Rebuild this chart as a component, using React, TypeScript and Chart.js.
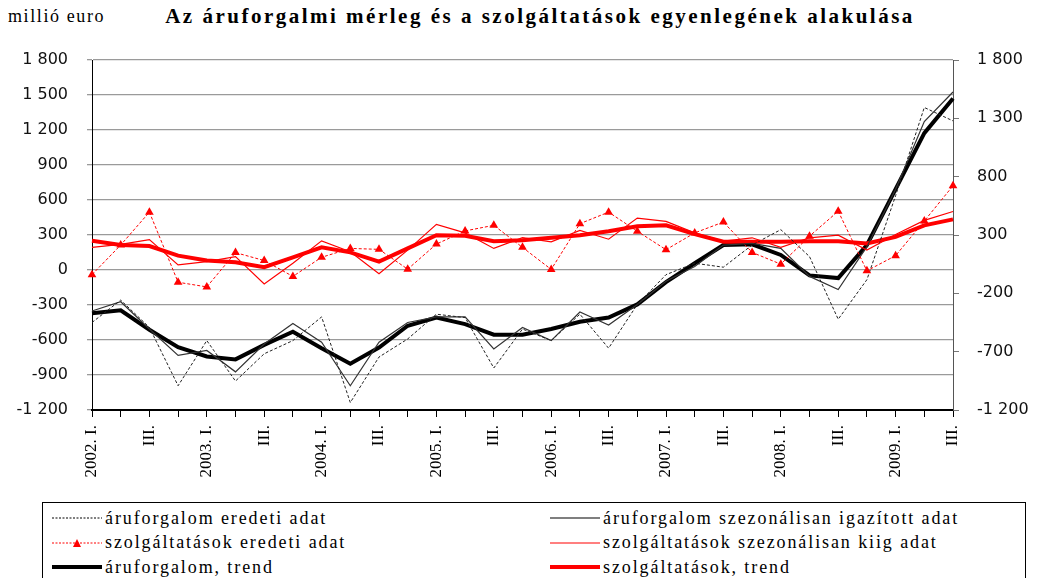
import React, { useEffect, useRef } from "react";
import { Chart, registerables } from "chart.js";

Chart.register(...registerables);

const quarters: string[] = [];
const years = [2002, 2003, 2004, 2005, 2006, 2007, 2008, 2009];
const qNames = ["I.", "II.", "III.", "IV."];
years.forEach((y) =>
  qNames.forEach((q, qi) => {
    if (y === 2009 && qi > 2) return;
    quarters.push(qi === 0 ? `${y}. ${q}` : q);
  })
);

const goodsOrig = [-450, -258, -492, -992, -605, -952, -718, -605, -402, -1136, -746, -591, -379, -408, -840, -506, -605, -379, -670, -295, -40, 58, 24, 214, 346, 115, -422, -83, 637, 1393, 1278];
const goodsSA = [-351, -272, -506, -732, -690, -873, -634, -458, -619, -992, -619, -450, -402, -402, -676, -492, -605, -360, -472, -295, -97, 30, 214, 228, 185, -55, -168, 200, 693, 1272, 1526];
const goodsTrend = [-371, -345, -512, -662, -741, -766, -642, -529, -670, -803, -665, -478, -408, -464, -555, -555, -506, -444, -408, -295, -104, 58, 214, 220, 129, -46, -69, 214, 693, 1173, 1470];
const servOrig = [-40, 214, 496, -105, -145, 149, 81, -55, 109, 185, 177, 7, 222, 335, 383, 194, 5, 397, 496, 332, 174, 318, 411, 151, 50, 290, 504, -7, 123, 420, 722];
const servSA = [194, 219, 261, 44, 72, 115, -120, 58, 250, 157, -32, 170, 391, 318, 185, 278, 242, 340, 264, 445, 417, 318, 247, 276, 194, 276, 298, 171, 304, 425, 501];
const servTrend = [250, 214, 205, 123, 81, 67, 24, 109, 194, 151, 72, 185, 298, 293, 247, 256, 276, 298, 332, 374, 383, 307, 242, 242, 242, 247, 247, 228, 284, 383, 434];

const rightTicks = [-1200, -700, -200, 300, 800, 1300, 1800];

const seriesNames = [
  "áruforgalom eredeti adat",
  "áruforgalom szezonálisan igazított adat",
  "szolgáltatások eredeti adat",
  "szolgáltatások szezonálisan kiig adat",
  "áruforgalom, trend",
  "szolgáltatások, trend",
];

const FONT = "'Liberation Serif', 'DejaVu Serif', serif";
const SANS = "'DejaVu Sans', 'Liberation Sans', sans-serif";

const fmt = (v: number) => {
  const s = Math.abs(v).toString();
  const withSp = s.length > 3 ? s.slice(0, s.length - 3) + " " + s.slice(-3) : s;
  return (v < 0 ? "-" : "") + withSp;
};

function LegendSample({ kind }: { kind: string }) {
  const w = 50;
  return (
    <svg width={w} height={12} style={{ display: "block" }}>
      {kind === "bdash" && <line x1={0} y1={6} x2={w} y2={6} stroke="#000" strokeWidth={1} strokeDasharray="2 1.5" />}
      {kind === "bthin" && <line x1={0} y1={6} x2={w} y2={6} stroke="#000" strokeWidth={1.2} />}
      {kind === "rdash" && (
        <>
          <line x1={0} y1={6} x2={w} y2={6} stroke="#ff0000" strokeWidth={1} strokeDasharray="2 1.5" />
          <polygon points={`${w / 2 - 4},10 ${w / 2 + 4},10 ${w / 2},2`} fill="#ff0000" />
        </>
      )}
      {kind === "rthin" && <line x1={0} y1={6} x2={w} y2={6} stroke="#ff0000" strokeWidth={1.2} />}
      {kind === "bthick" && <line x1={0} y1={6} x2={w} y2={6} stroke="#000" strokeWidth={4} />}
      {kind === "rthick" && <line x1={0} y1={6} x2={w} y2={6} stroke="#ff0000" strokeWidth={4} />}
    </svg>
  );
}

export default function App() {
  const ref = useRef<HTMLCanvasElement>(null);

  useEffect(() => {
    document.body.style.margin = "0";
    const ctx = ref.current!.getContext("2d")!;
    const chart = new Chart(ctx, {
      type: "line",
      data: {
        labels: quarters,
        datasets: [
          { label: seriesNames[2], data: servOrig, yAxisID: "y1", borderColor: "#ff0000", backgroundColor: "#ff0000", borderWidth: 1, borderDash: [3, 2], pointStyle: "triangle", pointRadius: 5, pointBorderWidth: 0, pointBackgroundColor: "#ff0000" },
          { label: seriesNames[3], data: servSA, yAxisID: "y1", borderColor: "#ff0000", borderWidth: 1.2, pointRadius: 0 },
          { label: seriesNames[0], data: goodsOrig, yAxisID: "y", borderColor: "#222", borderWidth: 1, borderDash: [3, 2], pointRadius: 0 },
          { label: seriesNames[1], data: goodsSA, yAxisID: "y", borderColor: "#333", borderWidth: 1.2, pointRadius: 0 },
          { label: seriesNames[5], data: servTrend, yAxisID: "y1", borderColor: "#ff0000", borderWidth: 4, pointRadius: 0 },
          { label: seriesNames[4], data: goodsTrend, yAxisID: "y", borderColor: "#000", borderWidth: 4, pointRadius: 0 },
        ],
      },
      options: {
        animation: false,
        responsive: false,
        maintainAspectRatio: false,
        layout: { padding: { top: 60, left: 0, right: 0, bottom: 0 } },
        plugins: { legend: { display: false }, title: { display: false }, tooltip: { enabled: false } },
        elements: { line: { tension: 0 } },
        scales: {
          x: {
            type: "category",
            offset: false,
            grid: { drawOnChartArea: false, drawTicks: true, tickLength: 7, color: "#000", lineWidth: 1 },
            border: { display: true, color: "#000", width: 2 },
            ticks: {
              autoSkip: false,
              maxRotation: 90,
              minRotation: 90,
              padding: 8,
              color: "#000",
              font: { family: FONT, size: 17 },
              callback: (_v: any, i: number) => (i % 2 === 0 ? quarters[i] : ""),
            },
            afterFit: (s: any) => {
              s.height = 90;
            },
          },
          y: {
            position: "left",
            min: -1200,
            max: 1800,
            grid: { color: "#9a9a9a", lineWidth: 1.3, drawTicks: true, tickLength: 5 },
            border: { display: true, color: "#000", width: 1 },
            ticks: { stepSize: 300, padding: 19, color: "#111", font: { family: SANS, size: 16 }, callback: (v: any) => fmt(Number(v)) },
            afterFit: (s: any) => {
              s.width = 92;
            },
          },
          y1: {
            position: "right",
            min: -1200,
            max: 1800,
            afterBuildTicks: (s: any) => {
              s.ticks = rightTicks.map((v) => ({ value: v }));
            },
            grid: { drawOnChartArea: false, drawTicks: true, tickLength: 6, color: "#777" },
            border: { display: true, color: "#555", width: 1 },
            ticks: { padding: 18, color: "#111", font: { family: SANS, size: 16 }, callback: (v: any) => fmt(Number(v)) },
            afterFit: (s: any) => {
              s.width = 84;
            },
          },
        },
      },
    });
    return () => chart.destroy();
  }, []);

  const rowStyle = (top: number, left: number): React.CSSProperties => ({
    position: "absolute",
    top,
    left,
    display: "flex",
    alignItems: "center",
    height: 20,
    fontFamily: FONT,
    fontSize: 18,
    letterSpacing: 1.9,
    color: "#000",
    whiteSpace: "nowrap",
  });

  const legendItems = [
    { kind: "bdash", text: seriesNames[0], col: 0, row: 0 },
    { kind: "bthin", text: seriesNames[1], col: 1, row: 0 },
    { kind: "rdash", text: seriesNames[2], col: 0, row: 1 },
    { kind: "rthin", text: seriesNames[3], col: 1, row: 1 },
    { kind: "bthick", text: seriesNames[4], col: 0, row: 2 },
    { kind: "rthick", text: seriesNames[5], col: 1, row: 2 },
  ];

  return (
    <div style={{ position: "absolute", left: 0, top: 0, width: 1037, height: 578, background: "#fff", overflow: "hidden" }}>
      <div style={{ position: "absolute", left: 8, top: 6, fontFamily: FONT, fontSize: 18, letterSpacing: 1.6, color: "#000" }}>millió euro</div>
      <div style={{ position: "absolute", left: 140, width: 800, top: 4, textAlign: "center", fontFamily: FONT, fontSize: 21, fontWeight: "bold", letterSpacing: 2.5, color: "#000", whiteSpace: "nowrap" }}>
        Az áruforgalmi mérleg és a szolgáltatások egyenlegének alakulása
      </div>
      <canvas ref={ref} width={1037} height={500} style={{ position: "absolute", left: 0, top: 0, width: 1037, height: 500 }} />
      <div style={{ position: "absolute", left: 42, top: 502, width: 984, height: 80, border: "1.5px solid #000", boxSizing: "border-box" }} />
      {legendItems.map((it, i) => (
        <div key={i} style={rowStyle(508 + it.row * 24.5, it.col === 0 ? 52 : 550)}>
          <LegendSample kind={it.kind} />
          <span style={{ marginLeft: 3 }}>{it.text}</span>
        </div>
      ))}
    </div>
  );
}
